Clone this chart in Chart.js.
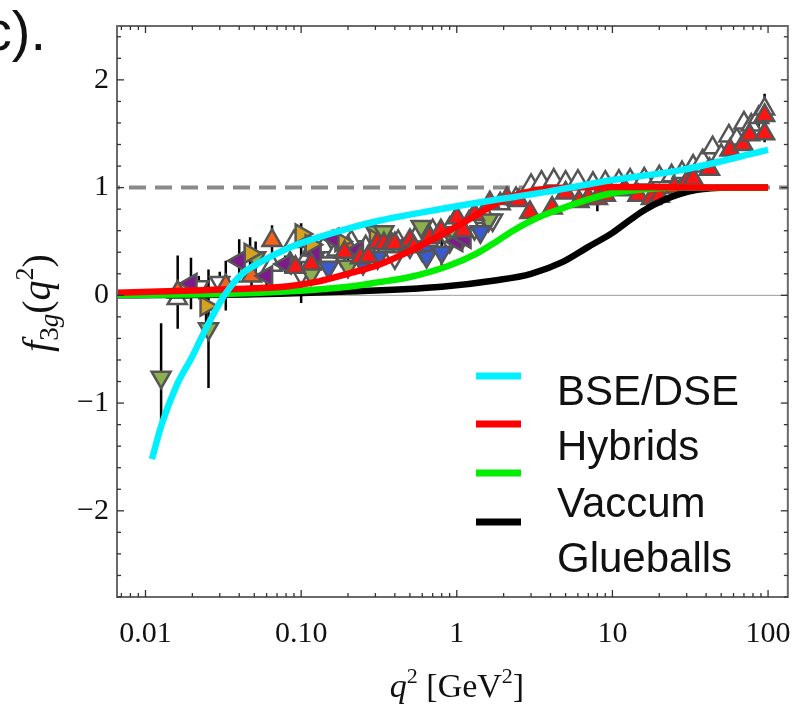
<!DOCTYPE html>
<html>
<head>
<meta charset="utf-8">
<style>
  html, body { margin: 0; padding: 0; background: #fff; }
  #wrap { width: 810px; height: 709px; }
</style>
<script src="https://cdn.jsdelivr.net/npm/chart.js@4.4.1/dist/chart.umd.min.js"></script>
</head>
<body>
<div id="wrap"><canvas id="chart" width="810" height="709"></canvas></div>
<script>
// axis ranges and ticks
const X_MIN = 0.00656, X_MAX = 134;
const Y_MIN = -2.8, Y_MAX = 2.5;
const X_TICKS = [0.01, 0.1, 1, 10, 100];
const X_TICK_LABELS = ['0.01', '0.10', '1', '10', '100'];
const Y_TICKS = [-2, -1, 0, 1, 2];
const Y_TICK_LABELS = ['\u22122', '\u22121', '0', '1', '2'];
const REF_LINE = 1;

// model curves
const BSE_X = [0.011, 0.0127, 0.0158, 0.0201, 0.0246, 0.0321, 0.0418, 0.0535, 0.083, 0.13, 0.2, 0.31, 0.6, 1.35, 3.78, 10, 27, 100];
const BSE_Y = [-1.52, -1.2, -0.84, -0.56, -0.3, 0.0, 0.2, 0.3, 0.44, 0.54, 0.62, 0.69, 0.77, 0.86, 0.96, 1.07, 1.16, 1.35];
const HYB_X = [0.00656, 0.02, 0.05, 0.083, 0.13, 0.2, 0.31, 0.45, 0.68, 1.0, 1.35, 1.9, 2.67, 3.8, 5, 10, 100];
const HYB_Y = [0.025, 0.045, 0.065, 0.085, 0.13, 0.2, 0.28, 0.38, 0.51, 0.64, 0.75, 0.87, 0.95, 0.99, 1.0, 1.005, 1.0];
const VAC_X = [0.00656, 0.03, 0.08, 0.2, 0.31, 0.5, 0.87, 1.35, 1.8, 2.3, 3.3, 4.8, 7, 10, 15, 27, 100];
const VAC_Y = [0.005, 0.012, 0.035, 0.08, 0.12, 0.17, 0.27, 0.39, 0.5, 0.6, 0.72, 0.81, 0.89, 0.95, 0.98, 1.0, 1.0];
const GLU_X = [0.00656, 0.05, 0.2, 0.8, 1.8, 3, 4.8, 7, 10, 13, 16, 21, 27, 35, 43, 60, 100];
const GLU_Y = [0.0, 0.01, 0.035, 0.08, 0.14, 0.2, 0.31, 0.45, 0.58, 0.7, 0.79, 0.88, 0.94, 0.98, 0.995, 1.0, 1.0];

// lattice points (x, y, error)
const ORANGE_X = [0.0161, 0.0328, 0.048, 0.065, 0.085, 0.12, 0.2];
const ORANGE_Y = [0.03, 0.09, 0.18, 0.51, 0.3, 0.42, 0.45];
const ORANGE_E = [0.34, 0.23, 0.12, 0.14, 0.1, 0.08, 0.06];

const PURPLE_X = [0.0196, 0.04, 0.06, 0.079, 0.123, 0.16, 0.23, 0.45, 1.0, 1.13];
const PURPLE_Y = [0.11, 0.32, 0.18, 0.29, 0.38, 0.53, 0.42, 0.46, 0.5, 0.53];
const PURPLE_E = [0.24, 0.2, 0.1, 0.08, 0.06, 0.08, 0.05, 0.05, 0.05, 0.05];

const YELLOW_X = [0.0245, 0.047, 0.1, 0.116, 0.18, 0.3];
const YELLOW_Y = [-0.1, 0.39, 0.57, 0.47, 0.5, 0.52];
const YELLOW_E = [0.2, 0.15, 0.1, 0.08, 0.06, 0.05];

const GREEN_X = [0.0126, 0.0254, 0.051, 0.116, 0.2, 0.3, 0.34, 0.59, 0.9, 1.6];
const GREEN_Y = [-0.76, -0.31, 0.35, 0.2, 0.27, 0.59, 0.59, 0.64, 0.58, 0.7];
const GREEN_E = [0.5, 0.55, 0.15, 0.1, 0.08, 0.07, 0.06, 0.05, 0.05, 0.05];

const BLUE_X = [0.15, 0.25, 0.31, 0.62, 0.64, 0.8, 1.42];
const BLUE_Y = [0.26, 0.3, 0.35, 0.41, 0.36, 0.4, 0.59];
const BLUE_E = [0.05, 0.05, 0.05, 0.05, 0.05, 0.13, 0.05];

const RED_X = [0.092, 0.116, 0.19, 0.24, 0.27, 0.31, 0.34, 0.38, 0.4, 0.5, 0.53, 0.67, 0.79, 1.0, 1.1, 1.3, 1.63, 2.1, 2.5, 2.95, 4.1, 5, 6.1, 7, 8, 9, 12, 14.6, 17.8, 20, 25, 30, 33, 42, 57, 69, 76, 95, 95];
const RED_Y = [0.26, 0.29, 0.4, 0.35, 0.36, 0.49, 0.48, 0.48, 0.48, 0.51, 0.45, 0.54, 0.6, 0.72, 0.6, 0.75, 0.86, 0.9, 0.88, 0.77, 0.81, 0.95, 0.87, 0.9, 0.9, 0.93, 0.98, 0.93, 0.9, 0.92, 1.0, 1.05, 1.08, 1.17, 1.35, 1.4, 1.49, 1.5, 1.67];
const RED_E = [0.04, 0.04, 0.04, 0.04, 0.04, 0.04, 0.04, 0.04, 0.04, 0.04, 0.04, 0.04, 0.04, 0.04, 0.04, 0.04, 0.04, 0.04, 0.04, 0.04, 0.04, 0.04, 0.04, 0.04, 0.12, 0.04, 0.04, 0.04, 0.04, 0.04, 0.04, 0.04, 0.06, 0.06, 0.06, 0.06, 0.06, 0.08, 0.08];

const OPEN_UP_X = [0.016, 0.065, 0.09, 0.11, 0.14, 0.17, 0.21, 0.26, 0.33, 0.42, 0.55, 0.7, 0.9, 1.2, 1.5, 1.9, 2.4, 3.0, 3.5, 4.2, 5, 6, 7.5, 9, 11, 13, 16, 20, 24, 28, 33, 38, 44, 50, 56, 63, 70, 78, 87, 95];
const OPEN_UP_Y = [-0.03, 0.28, 0.5, 0.36, 0.45, 0.42, 0.5, 0.45, 0.52, 0.5, 0.55, 0.6, 0.62, 0.68, 0.76, 0.85, 0.9, 1.02, 1.05, 1.07, 1.05, 1.06, 1.04, 1.05, 1.06, 1.07, 1.08, 1.1, 1.11, 1.14, 1.2, 1.25, 1.37, 1.3, 1.48, 1.45, 1.6, 1.58, 1.65, 1.73];
const OPEN_UP_E = [0.05, 0.04, 0.04, 0.04, 0.04, 0.04, 0.04, 0.04, 0.04, 0.04, 0.04, 0.04, 0.04, 0.04, 0.04, 0.04, 0.06, 0.04, 0.04, 0.04, 0.04, 0.04, 0.04, 0.04, 0.04, 0.04, 0.04, 0.04, 0.04, 0.04, 0.04, 0.06, 0.06, 0.06, 0.06, 0.06, 0.06, 0.06, 0.08, 0.14];

const OPEN_DOWN_X = [0.022, 0.03, 0.1, 0.12, 0.15, 0.18, 0.22, 0.25, 0.35, 0.4, 0.5, 0.6, 0.7, 0.9, 1.1, 1.3, 1.7];
const OPEN_DOWN_Y = [0.08, 0.12, 0.2, 0.33, 0.3, 0.38, 0.45, 0.3, 0.4, 0.35, 0.45, 0.42, 0.5, 0.5, 0.55, 0.62, 0.7];
const OPEN_DOWN_E = [0.1, 0.1, 0.27, 0.05, 0.05, 0.05, 0.05, 0.05, 0.05, 0.05, 0.05, 0.05, 0.05, 0.05, 0.05, 0.05, 0.05];

const SERIF = '"Liberation Serif", "DejaVu Serif", serif';
const SANS = '"Liberation Sans", Arial, sans-serif';

function pts(xs, ys) {
    return xs.map((x, i) => ({ x: x, y: ys[i] }));
}

function markers(label, xs, ys, errs, fill, rot, order) {
    return {
        label: label,
        data: pts(xs, ys),
        errs: errs,
        showLine: false,
        pointStyle: 'triangle',
        pointRadius: 11,
        pointRotation: rot,
        pointBackgroundColor: fill,
        pointBorderColor: '#555',
        pointBorderWidth: 2.5,
        order: order,
    };
}

function curve(label, xs, ys, color, order) {
    return {
        label: label,
        data: pts(xs, ys),
        showLine: true,
        borderColor: color,
        borderWidth: 6.5,
        pointRadius: 0,
        cubicInterpolationMode: 'monotone',
        fill: false,
        order: order,
    };
}

// rich text: runs of [text, font, dy], centred on cx
function drawRuns(ctx, runs, cx, cy, rot) {
    ctx.save();
    ctx.translate(cx, cy);
    if (rot) ctx.rotate(rot);
    let total = 0;
    runs.forEach(r => { ctx.font = r[1]; total += ctx.measureText(r[0]).width; });
    let x = -total / 2;
    ctx.textBaseline = 'alphabetic';
    ctx.textAlign = 'left';
    ctx.fillStyle = '#111';
    runs.forEach(r => {
        ctx.font = r[1];
        ctx.fillText(r[0], x, r[2]);
        x += ctx.measureText(r[0]).width;
    });
    ctx.restore();
}

const decorPlugin = {
    id: 'decor',
    beforeDatasetsDraw(chart) {
        const ctx = chart.ctx, a = chart.chartArea;
        const xs = chart.scales.x, ys = chart.scales.y;
        ctx.save();
        // zero line
        ctx.strokeStyle = '#9a9a9a';
        ctx.lineWidth = 1;
        const y0 = ys.getPixelForValue(0);
        ctx.beginPath(); ctx.moveTo(a.left, y0); ctx.lineTo(a.right, y0); ctx.stroke();
        // dashed reference
        ctx.strokeStyle = '#8a8a8a';
        ctx.lineWidth = 4;
        ctx.setLineDash([17, 9]);
        ctx.lineDashOffset = 14;
        const y1 = ys.getPixelForValue(REF_LINE);
        ctx.beginPath(); ctx.moveTo(a.left, y1); ctx.lineTo(a.right, y1); ctx.stroke();
        ctx.setLineDash([]);
        // error bars
        ctx.beginPath();
        ctx.rect(a.left, a.top, a.right - a.left, a.bottom - a.top);
        ctx.clip();
        ctx.strokeStyle = '#000';
        ctx.lineWidth = 2.5;
        chart.data.datasets.forEach(ds => {
            if (!ds.errs) return;
            ds.data.forEach((p, i) => {
                const px = xs.getPixelForValue(p.x);
                ctx.beginPath();
                ctx.moveTo(px, ys.getPixelForValue(p.y - ds.errs[i]));
                ctx.lineTo(px, ys.getPixelForValue(p.y + ds.errs[i]));
                ctx.stroke();
            });
        });
        ctx.restore();
    },
    afterDraw(chart) {
        const ctx = chart.ctx, a = chart.chartArea;
        const xs = chart.scales.x, ys = chart.scales.y;
        ctx.save();
        // frame
        ctx.strokeStyle = '#6a6a6a';
        ctx.lineWidth = 2;
        ctx.strokeRect(a.left, a.top, a.right - a.left, a.bottom - a.top);
        // ticks, inside on every side
        ctx.strokeStyle = '#333';
        ctx.lineWidth = 1.3;
        const tick = (x1, y1, x2, y2) => { ctx.beginPath(); ctx.moveTo(x1, y1); ctx.lineTo(x2, y2); ctx.stroke(); };
        for (let d = 0.001; d < 1000; d *= 10) {
            for (let k = 1; k <= 9; k++) {
                const v = d * k;
                if (v < X_MIN || v > X_MAX) continue;
                const px = xs.getPixelForValue(v);
                const len = k === 1 ? 7 : 4;
                tick(px, a.bottom, px, a.bottom - len);
                tick(px, a.top, px, a.top + len);
            }
        }
        for (let i = -14; i <= 12; i++) {
            const v = i * 0.2;
            const py = ys.getPixelForValue(v);
            const len = (i % 5 === 0) ? 7 : 4;
            tick(a.left, py, a.left + len, py);
            tick(a.right, py, a.right - len, py);
        }
        // axis titles
        const it = s => 'italic ' + s + 'px ' + SERIF;
        const up = s => s + 'px ' + SERIF;
        drawRuns(ctx, [['q', it(34), 0], ['2', up(22), -14], [' [GeV', up(34), 0], ['2', up(22), -14], [']', up(34), 0]], 457, 697, 0);
        drawRuns(ctx, [['f', it(40), 0], ['3', up(27), 8], ['g', it(27), 8], ['(', up(40), 0], ['q', it(40), 0], ['2', up(26), -17], [')', up(40), 0]], 50, 303, -Math.PI / 2);
        // panel tag
        ctx.fillStyle = '#111';
        ctx.font = '56px ' + SANS;
        ctx.textAlign = 'right';
        ctx.textBaseline = 'alphabetic';
        ctx.fillText('c).', 46, 50);
        // legend
        const leg = [
            ['BSE/DSE', '#00f0ff', 376, 405],
            ['Hybrids', '#ff0000', 424, 460],
            ['Vaccum', '#00ee00', 473, 517],
            ['Glueballs', '#000000', 522, 572],
        ];
        ctx.textAlign = 'left';
        ctx.font = '42px ' + SANS;
        leg.forEach(l => {
            ctx.strokeStyle = l[1];
            ctx.lineWidth = 7;
            tick(476, l[2], 521, l[2]);
            ctx.fillStyle = '#111';
            ctx.fillText(l[0], 557, l[3]);
        });
        ctx.restore();
    }
};

new Chart(document.getElementById('chart'), {
    type: 'scatter',
    data: {
        datasets: [
            curve('BSE/DSE', BSE_X, BSE_Y, '#00f0ff', 0),
            curve('Hybrids', HYB_X, HYB_Y, '#ff0000', 1),
            curve('Vaccum', VAC_X, VAC_Y, '#00ee00', 2),
            curve('Glueballs', GLU_X, GLU_Y, '#000000', 3),
            markers('red', RED_X, RED_Y, RED_E, '#ff1414', 0, 4),
            markers('blue', BLUE_X, BLUE_Y, BLUE_E, '#3a5bd0', 180, 5),
            markers('purple', PURPLE_X, PURPLE_Y, PURPLE_E, '#7d1a8c', -90, 6),
            markers('yellow', YELLOW_X, YELLOW_Y, YELLOW_E, '#d6a21e', 90, 7),
            markers('orange', ORANGE_X, ORANGE_Y, ORANGE_E, '#f4621c', 0, 8),
            markers('green', GREEN_X, GREEN_Y, GREEN_E, '#8db04e', 180, 9),
            markers('open up', OPEN_UP_X, OPEN_UP_Y, OPEN_UP_E, '#ffffff', 0, 10),
            markers('open down', OPEN_DOWN_X, OPEN_DOWN_Y, OPEN_DOWN_E, '#ffffff', 180, 11),
        ]
    },
    options: {
        responsive: false,
        animation: false,
        layout: { padding: { left: 0, right: 15, top: 10, bottom: 0 } },
        plugins: { legend: { display: false }, tooltip: { enabled: false } },
        scales: {
            x: {
                type: 'logarithmic',
                min: X_MIN,
                max: X_MAX,
                grid: { display: false, drawTicks: false },
                border: { display: false },
                afterBuildTicks: s => { s.ticks = X_TICKS.map(v => ({ value: v })); },
                afterFit: s => { s.height = 112; },
                ticks: {
                    callback: (v, i) => X_TICK_LABELS[i],
                    font: { family: SERIF, size: 30 },
                    color: '#111',
                    padding: 19,
                    maxRotation: 0,
                    autoSkip: false,
                },
            },
            y: {
                type: 'linear',
                min: Y_MIN,
                max: Y_MAX,
                grid: { display: false, drawTicks: false },
                border: { display: false },
                afterBuildTicks: s => { s.ticks = Y_TICKS.map(v => ({ value: v })); },
                afterFit: s => { s.width = 117; },
                ticks: {
                    callback: (v, i) => Y_TICK_LABELS[i],
                    font: { family: SERIF, size: 30 },
                    color: '#111',
                    padding: 8,
                    autoSkip: false,
                },
            },
        },
    },
    plugins: [decorPlugin],
});
</script>
</body>
</html>
